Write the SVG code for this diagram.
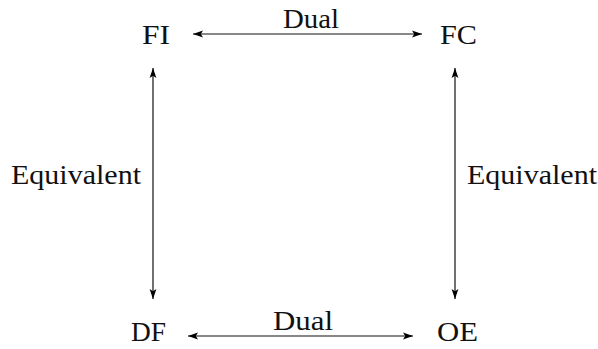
<svg xmlns="http://www.w3.org/2000/svg" width="598" height="349" viewBox="0 0 598 349">
<defs>
<marker id="ah" markerWidth="11" markerHeight="8" refX="10" refY="4" orient="auto-start-reverse" markerUnits="userSpaceOnUse">
<path d="M0,0.6 L10,4 L0,7.4 L2.2,4 Z" fill="#000"/>
</marker>
</defs>
<style>
text{font-family:"Liberation Serif","DejaVu Serif",serif;font-size:27px;fill:#111}
.c{stroke:#111;stroke-width:1.2;fill:none;marker-start:url(#ah);marker-end:url(#ah)}
</style>
<rect width="598" height="349" fill="#fff"/>
<g id="FI"><text x="142" y="44" textLength="28" lengthAdjust="spacingAndGlyphs">FI</text></g>
<g id="FC"><text x="440" y="44" textLength="37" lengthAdjust="spacingAndGlyphs">FC</text></g>
<g id="DF"><text x="131" y="341" textLength="35" lengthAdjust="spacingAndGlyphs">DF</text></g>
<g id="OE"><text x="437" y="341" textLength="41" lengthAdjust="spacingAndGlyphs">OE</text></g>
<g id="connectors">
<line class="c" x1="193" y1="34" x2="422" y2="34"/>
<line class="c" x1="188" y1="336" x2="413" y2="336"/>
<line class="c" x1="153" y1="68" x2="153" y2="299"/>
<line class="c" x1="455" y1="68" x2="455" y2="299"/>
<text x="283" y="28" textLength="56" lengthAdjust="spacingAndGlyphs">Dual</text>
<text x="273" y="330" textLength="60" lengthAdjust="spacingAndGlyphs">Dual</text>
<text x="11" y="184" textLength="130" lengthAdjust="spacingAndGlyphs">Equivalent</text>
<text x="467" y="184" textLength="130" lengthAdjust="spacingAndGlyphs">Equivalent</text>
</g>
</svg>
